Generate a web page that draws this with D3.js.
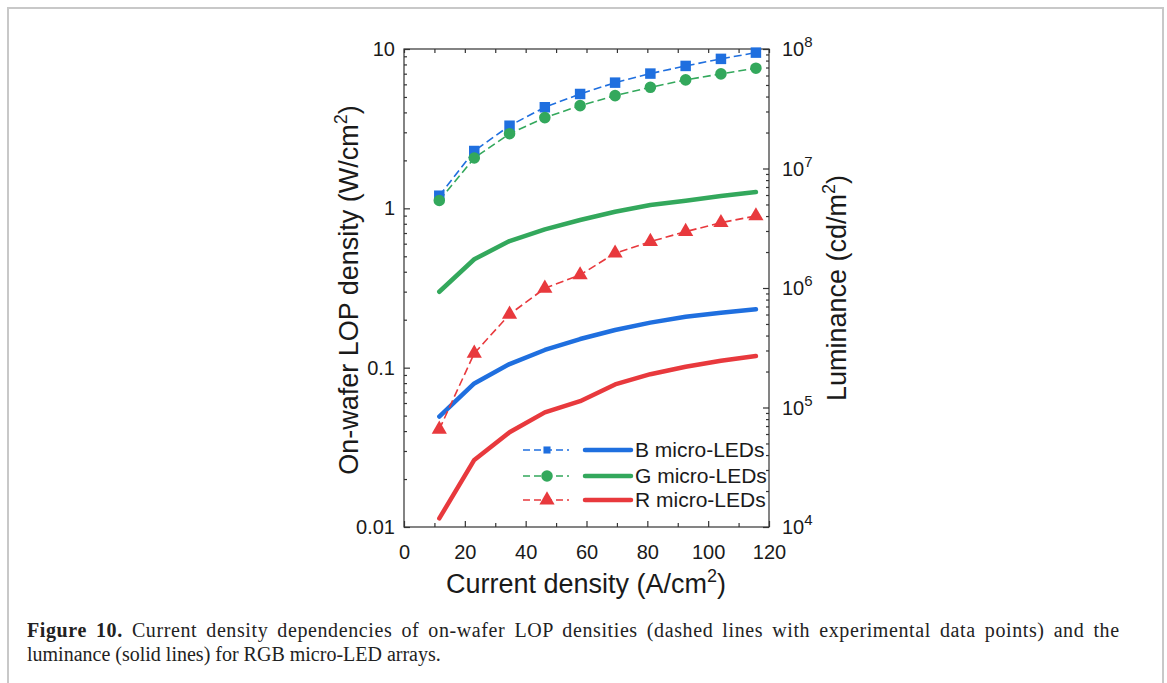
<!DOCTYPE html>
<html>
<head>
<meta charset="utf-8">
<script src="https://cdn.jsdelivr.net/npm/d3@7"></script>
<style>
  body { margin: 0; background: #fff; }
  svg { display: block; font-family: 'Liberation Sans', Arial, sans-serif; }
  .axis path, .axis line { stroke: #333; stroke-width: 1.2; }
  .axis text { font-size: 20px; fill: #1a1a1a; font-family: 'Liberation Sans', Arial, sans-serif; }
  .title { font-size: 27px; fill: #1a1a1a; }
  .legend text { font-size: 21px; fill: #1a1a1a; }
  .caption { font-family: 'Liberation Serif', 'Times New Roman', serif; font-size: 20px; fill: #222; }
</style>
</head>
<body>
<svg class="fig"></svg>
<script>
//DATA
const currentDensity = [11.6, 23.1, 34.7, 46.3, 57.9, 69.4, 81.0, 92.6, 104.2, 115.7];

// on-wafer LOP density, W/cm^2 (dashed + markers, left axis)
const lopBlue  = [1.20, 2.29, 3.30, 4.31, 5.22, 6.15, 7.01, 7.83, 8.67, 9.49];
const lopGreen = [1.12, 2.07, 2.94, 3.71, 4.41, 5.10, 5.75, 6.40, 6.98, 7.58];
const lopRed   = [0.041, 0.123, 0.216, 0.315, 0.382, 0.523, 0.618, 0.714, 0.813, 0.896];

// luminance, cd/m^2 (solid, right axis)
const lumBlue  = [8.4e4, 1.59e5, 2.31e5, 3.03e5, 3.74e5, 4.45e5, 5.13e5, 5.75e5, 6.21e5, 6.63e5];
const lumGreen = [9.3e5, 1.74e6, 2.47e6, 3.09e6, 3.71e6, 4.35e6, 4.95e6, 5.38e6, 5.89e6, 6.35e6];
const lumRed   = [1.18e4, 3.64e4, 6.2e4, 9.1e4, 1.13e5, 1.56e5, 1.9e5, 2.19e5, 2.46e5, 2.7e5];

const xTicks = [0, 20, 40, 60, 80, 100, 120];
const xMinorTicks = [10, 30, 50, 70, 90, 110];
const lopTicks = [0.01, 0.1, 1, 10];
const lopTickLabels = ['0.01', '0.1', '1', '10'];
const lumExponents = [4, 5, 6, 7, 8];
const legendLabels = ['B micro-LEDs', 'G micro-LEDs', 'R micro-LEDs'];

const colors = {B: '#1f6fdf', G: '#33a85c', R: '#e8393d'};

//CANVAS
const size = {w: 1167, h: 683};
const plot = {left: 404, right: 769, top: 49, bottom: 527};

const svg = d3.select('svg.fig')
    .attr('width', size.w)
    .attr('height', size.h);

// figure frame
svg.append('rect')
    .attr('x', 8).attr('y', 8)
    .attr('width', 1155).attr('height', 720)
    .attr('fill', 'none')
    .attr('stroke', '#c8c8c8')
    .attr('stroke-width', 2);

//SCALES
const x = d3.scaleLinear().domain([0, 120]).range([plot.left, plot.right]);
const yLop = d3.scaleLog().domain([0.01, 10]).range([plot.bottom, plot.top]);
const yLum = d3.scaleLog().domain([1e4, 1e8]).range([plot.bottom, plot.top]);

function minorLogTicks(lo, hi){
    let out = [];
    for(let d = lo; d < hi; d *= 10){
        for(let k = 2; k <= 9; k++) out.push(d * k);
    }
    return out;
}

//AXES
const g = svg.append('g');

// frame of plot
g.append('rect')
    .attr('x', plot.left).attr('y', plot.top)
    .attr('width', plot.right - plot.left)
    .attr('height', plot.bottom - plot.top)
    .attr('fill', 'none')
    .attr('stroke', '#333')
    .attr('stroke-width', 1.2);

g.append('g').attr('class', 'axis')
    .attr('transform', `translate(0,${plot.bottom})`)
    .call(d3.axisBottom(x).tickValues(xTicks).tickSize(-6).tickPadding(18).tickFormat(d3.format('d')))
    .call(s => s.select('.domain').remove());
g.append('g').attr('class', 'axis')
    .attr('transform', `translate(0,${plot.bottom})`)
    .call(d3.axisBottom(x).tickValues(xMinorTicks).tickSize(-4).tickFormat(''))
    .call(s => s.select('.domain').remove());
g.append('g').attr('class', 'axis')
    .attr('transform', `translate(0,${plot.top})`)
    .call(d3.axisTop(x).tickValues(xTicks.concat(xMinorTicks)).tickSize(-4).tickFormat(''))
    .call(s => s.select('.domain').remove());

g.append('g').attr('class', 'axis')
    .attr('transform', `translate(${plot.left},0)`)
    .call(d3.axisLeft(yLop).tickValues(lopTicks).tickSize(-6).tickPadding(9)
        .tickFormat((d, i) => lopTickLabels[i]))
    .call(s => s.select('.domain').remove());
g.append('g').attr('class', 'axis')
    .attr('transform', `translate(${plot.left},0)`)
    .call(d3.axisLeft(yLop).tickValues(minorLogTicks(0.01, 10)).tickSize(-3).tickFormat(''))
    .call(s => s.select('.domain').remove());

g.append('g').attr('class', 'axis')
    .attr('transform', `translate(${plot.right},0)`)
    .call(d3.axisRight(yLum).tickValues(lumExponents.map(e => Math.pow(10, e))).tickSize(-6).tickFormat(''))
    .call(s => s.select('.domain').remove());
g.append('g').attr('class', 'axis')
    .attr('transform', `translate(${plot.right},0)`)
    .call(d3.axisRight(yLum).tickValues(minorLogTicks(1e4, 1e8)).tickSize(-3).tickFormat(''))
    .call(s => s.select('.domain').remove());

// right tick labels with superscripts
const rLabels = g.append('g').attr('class', 'axis');
lumExponents.forEach(e => {
    let t = rLabels.append('text')
        .attr('x', plot.right + 13)
        .attr('y', yLum(Math.pow(10, e)) + 7);
    t.append('tspan').text('10');
    t.append('tspan').attr('dy', -9).style('font-size', '15px').text(e);
});

//AXIS TITLES
function titleWithSup(sel, before, sup, after){
    sel.append('tspan').text(before);
    sel.append('tspan').attr('dy', -11).style('font-size', '18px').text(sup);
    sel.append('tspan').attr('dy', 11).text(after);
}

titleWithSup(svg.append('text').attr('class', 'title')
    .attr('text-anchor', 'middle')
    .attr('x', 586).attr('y', 593), 'Current density (A/cm', '2', ')');

titleWithSup(svg.append('text').attr('class', 'title')
    .attr('text-anchor', 'middle')
    .attr('transform', `translate(358,290) rotate(-90)`), 'On-wafer LOP density (W/cm', '2', ')');

titleWithSup(svg.append('text').attr('class', 'title')
    .attr('text-anchor', 'middle')
    .attr('transform', `translate(846,288) rotate(-90)`), 'Luminance (cd/m', '2', ')');

//SERIES
const lum = [{k: 'B', v: lumBlue}, {k: 'G', v: lumGreen}, {k: 'R', v: lumRed}];
const lop = [
    {k: 'B', v: lopBlue, sym: d3.symbolSquare, area: 110},
    {k: 'G', v: lopGreen, sym: d3.symbolCircle, area: 105},
    {k: 'R', v: lopRed, sym: d3.symbolTriangle, area: 100}
];

const solidLine = d3.line().x((d, i) => x(currentDensity[i])).y(d => yLum(d));
const dashLine = d3.line().x((d, i) => x(currentDensity[i])).y(d => yLop(d));

svg.append('g').selectAll('path')
    .data(lum)
    .enter()
    .append('path')
    .attr('d', d => solidLine(d.v))
    .attr('fill', 'none')
    .attr('stroke', d => colors[d.k])
    .attr('stroke-width', 4.5)
    .attr('stroke-linejoin', 'round')
    .attr('stroke-linecap', 'round');

const lopG = svg.append('g');
lopG.selectAll('path.dash')
    .data(lop)
    .enter()
    .append('path')
    .attr('class', 'dash')
    .attr('d', d => dashLine(d.v))
    .attr('fill', 'none')
    .attr('stroke', d => colors[d.k])
    .attr('stroke-width', 1.6)
    .attr('stroke-dasharray', '8,4');

lop.forEach(s => {
    lopG.selectAll(null)
        .data(s.v)
        .enter()
        .append('path')
        .attr('transform', (d, i) => `translate(${x(currentDensity[i])},${yLop(d)})`)
        .attr('d', d3.symbol().type(s.sym).size(s.area))
        .attr('fill', colors[s.k]);
});

//LEGEND
const legend = svg.append('g').attr('class', 'legend');
const rowsY = [450, 476, 500];
lop.forEach((s, i) => {
    let y = rowsY[i];
    legend.append('line')
        .attr('x1', 523).attr('x2', 569).attr('y1', y).attr('y2', y)
        .attr('stroke', colors[s.k]).attr('stroke-width', 1.6)
        .attr('stroke-dasharray', '7,4');
    legend.append('path')
        .attr('transform', `translate(547,${y})`)
        .attr('d', d3.symbol().type(s.sym).size(i === 0 ? 50 : s.area))
        .attr('fill', colors[s.k]);
    legend.append('line')
        .attr('x1', 585).attr('x2', 631).attr('y1', y).attr('y2', y)
        .attr('stroke', colors[s.k]).attr('stroke-width', 4.5)
        .attr('stroke-linecap', 'round');
    legend.append('text')
        .attr('x', 635).attr('y', y + 7)
        .text(legendLabels[i]);
});

//CAPTION (first line is justified in the source)
const cap1 = svg.append('text').attr('class', 'caption')
    .attr('x', 27).attr('y', 637)
    .style('word-spacing', '3.5px')
    .style('letter-spacing', '0.6px');
cap1.append('tspan').style('font-weight', 'bold').text('Figure 10.');
cap1.append('tspan').text(' Current density dependencies of on-wafer LOP densities (dashed lines with experimental data points) and the');
svg.append('text').attr('class', 'caption').attr('x', 27).attr('y', 661)
    .text('luminance (solid lines) for RGB micro-LED arrays.');
</script>
</body>
</html>
